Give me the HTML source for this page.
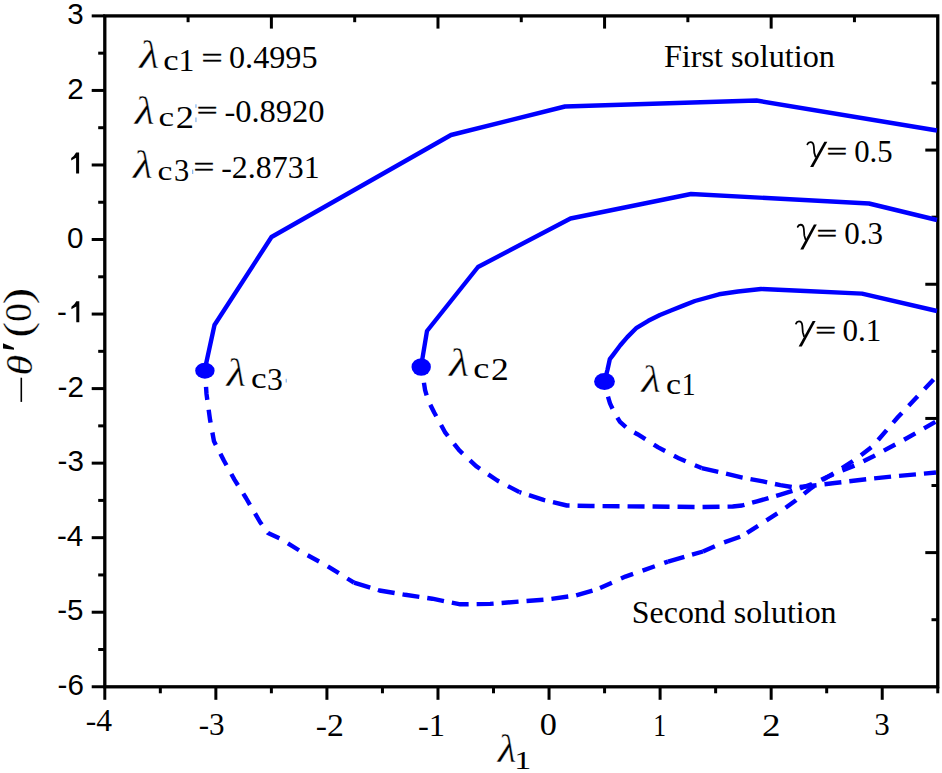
<!DOCTYPE html>
<html><head><meta charset="utf-8"><style>
html,body{margin:0;padding:0;background:#fff;overflow:hidden;}
svg{display:block;}
</style></head><body>
<svg width="942" height="773" viewBox="0 0 942 773">
<rect width="942" height="773" fill="#fff"/>
<g stroke="#000" stroke-width="3">
<rect x="104.8" y="15.9" width="832.95" height="670.90" fill="none" stroke="#000" stroke-width="3.3"/>
<line x1="91.7" y1="15.90" x2="104.8" y2="15.90"/>
<line x1="98.2" y1="53.17" x2="104.8" y2="53.17"/>
<line x1="91.7" y1="90.44" x2="104.8" y2="90.44"/>
<line x1="98.2" y1="127.71" x2="104.8" y2="127.71"/>
<line x1="91.7" y1="164.98" x2="104.8" y2="164.98"/>
<line x1="98.2" y1="202.25" x2="104.8" y2="202.25"/>
<line x1="91.7" y1="239.52" x2="104.8" y2="239.52"/>
<line x1="98.2" y1="276.79" x2="104.8" y2="276.79"/>
<line x1="91.7" y1="314.06" x2="104.8" y2="314.06"/>
<line x1="98.2" y1="351.33" x2="104.8" y2="351.33"/>
<line x1="91.7" y1="388.60" x2="104.8" y2="388.60"/>
<line x1="98.2" y1="425.87" x2="104.8" y2="425.87"/>
<line x1="91.7" y1="463.14" x2="104.8" y2="463.14"/>
<line x1="98.2" y1="500.41" x2="104.8" y2="500.41"/>
<line x1="91.7" y1="537.68" x2="104.8" y2="537.68"/>
<line x1="98.2" y1="574.95" x2="104.8" y2="574.95"/>
<line x1="91.7" y1="612.22" x2="104.8" y2="612.22"/>
<line x1="98.2" y1="649.49" x2="104.8" y2="649.49"/>
<line x1="91.7" y1="686.76" x2="104.8" y2="686.76"/>
<line x1="104.80" y1="686.8" x2="104.80" y2="699.8"/>
<line x1="160.33" y1="686.8" x2="160.33" y2="693.3"/>
<line x1="215.86" y1="686.8" x2="215.86" y2="699.8"/>
<line x1="271.39" y1="686.8" x2="271.39" y2="693.3"/>
<line x1="326.92" y1="686.8" x2="326.92" y2="699.8"/>
<line x1="382.45" y1="686.8" x2="382.45" y2="693.3"/>
<line x1="437.98" y1="686.8" x2="437.98" y2="699.8"/>
<line x1="493.51" y1="686.8" x2="493.51" y2="693.3"/>
<line x1="549.04" y1="686.8" x2="549.04" y2="699.8"/>
<line x1="604.57" y1="686.8" x2="604.57" y2="693.3"/>
<line x1="660.10" y1="686.8" x2="660.10" y2="699.8"/>
<line x1="715.63" y1="686.8" x2="715.63" y2="693.3"/>
<line x1="771.16" y1="686.8" x2="771.16" y2="699.8"/>
<line x1="826.69" y1="686.8" x2="826.69" y2="693.3"/>
<line x1="882.22" y1="686.8" x2="882.22" y2="699.8"/>
<line x1="937.75" y1="686.8" x2="937.75" y2="693.3"/>
<line x1="188.09" y1="15.9" x2="188.09" y2="22.2"/>
<line x1="271.39" y1="15.9" x2="271.39" y2="28.6"/>
<line x1="354.69" y1="15.9" x2="354.69" y2="22.2"/>
<line x1="437.98" y1="15.9" x2="437.98" y2="28.6"/>
<line x1="521.27" y1="15.9" x2="521.27" y2="22.2"/>
<line x1="604.57" y1="15.9" x2="604.57" y2="28.6"/>
<line x1="687.87" y1="15.9" x2="687.87" y2="22.2"/>
<line x1="771.16" y1="15.9" x2="771.16" y2="28.6"/>
<line x1="854.45" y1="15.9" x2="854.45" y2="22.2"/>
<line x1="931.5" y1="82.99" x2="937.75" y2="82.99"/>
<line x1="925.3" y1="150.08" x2="937.75" y2="150.08"/>
<line x1="931.5" y1="217.17" x2="937.75" y2="217.17"/>
<line x1="925.3" y1="284.26" x2="937.75" y2="284.26"/>
<line x1="931.5" y1="351.35" x2="937.75" y2="351.35"/>
<line x1="925.3" y1="418.44" x2="937.75" y2="418.44"/>
<line x1="931.5" y1="485.53" x2="937.75" y2="485.53"/>
<line x1="925.3" y1="552.62" x2="937.75" y2="552.62"/>
<line x1="931.5" y1="619.71" x2="937.75" y2="619.71"/>
</g>
<g fill="none" stroke="#0000ff" stroke-width="4.4" stroke-linejoin="round">
<path d="M204.5,371 L214.5,325 L271.5,237 L451,135 L565,106.5 L756.5,100.5 L937,130.5"/>
<path d="M421,367 L427,331 L478,267 L570.5,218.5 L691,194 L869,203.5 L937,220"/>
<path d="M604.6,381 L607.5,369.7 L609.8,359.2 L613.3,354.6 L620.3,345.3 L627.3,337.1 L636.6,327.8 L648.3,320.8 L659.9,315 L671.6,310.3 L683.2,305.6 L694.9,301 L719,294.3 L738,291.5 L761,289 L800,290.8 L862,293.6 L937,311"/>
<path d="M205,371 L206.5,394 L210,419.5 L214,441.3 L224,460.8 L234.3,479.4 L246,498 L260,522 L268,533 L280,538.5 L302.6,552.5 L326.7,565.6 L354,582.7" stroke-dasharray="13 10" stroke-dashoffset="7.00"/>
<path d="M354,582.7 L379.5,590.5 L405.2,594.8 L432.3,598.7 L460.3,604.3 L490.1,603.9 L519.8,601.5 L548.7,599.3 L575.7,595.5 L596.9,589.4" stroke-dasharray="17 8" stroke-dashoffset="0.00"/>
<path d="M596.9,589.4 L625.4,576.6 L668,561.6" stroke-dasharray="13 10" stroke-dashoffset="19.57"/>
<path d="M668,561.6 L703,551.5" stroke-dasharray="17 8" stroke-dashoffset="0.00"/>
<path d="M703,551.5 L720.7,543.5" stroke-dasharray="13 10" stroke-dashoffset="0.00"/>
<path d="M720.7,543.5 L741.8,536.2" stroke-dasharray="17 8" stroke-dashoffset="21.42"/>
<path d="M741.8,536.2 L760.7,524.2 L781,511 L796,500.3 L810,489 L825,478.5 L840,469.5 L856,459 L873,446 L898,417 L916,398 L936,377" stroke-dasharray="13 10" stroke-dashoffset="16.75"/>
<path d="M421,367 L423.5,380 L425.1,390.2 L428,400 L434.2,412.5 L445.3,432.7 L459.1,450.2 L476.1,466.1 L497.3,480.5 L519.6,492.2" stroke-dasharray="13 10" stroke-dashoffset="7.00"/>
<path d="M519.6,492.2 L543.5,499.9 L566.8,505.5 L590.7,506 L700,507 L732.7,506.5 L742,505.5 L757,501.4 L779.7,494.8 L797,489.5" stroke-dasharray="17 8" stroke-dashoffset="15.16"/>
<path d="M797,489.5 L812,484 L826,477.5 L840,471.5 L856,465 L874,456 L903.6,440 L936,421.5" stroke-dasharray="13 10" stroke-dashoffset="19.78"/>
<path d="M604.6,381 L607.5,395 L610,403.4 L614,412 L620,421.9 L628,429 L637.5,434.2 L658.2,447.4 L679.4,458.6 L701.7,468.1" stroke-dasharray="13 10" stroke-dashoffset="7.00"/>
<path d="M701.7,468.1 L723,473 L742.5,477.6 L763,481.4 L780.4,485.2 L795,487.5 L810,486 L834.7,483 L868,479 L892,476.5 L936,472.5" stroke-dasharray="17 8" stroke-dashoffset="0.00"/>
</g>
<g fill="#0000ff">
<ellipse cx="204.9" cy="370.7" rx="9.7" ry="8.0"/>
<ellipse cx="421.2" cy="367" rx="9.7" ry="8.8"/>
<ellipse cx="604.5" cy="381.5" rx="10.4" ry="8.5"/>
</g>
<g fill="#000">
<text transform="matrix(0.46279,0,0,0.40429,139.126,68.100)" style="font-family:'Liberation Serif',serif;font-size:100px;font-style:italic;" stroke="#fff" stroke-width="0.92">λ</text>
<text transform="matrix(0.34595,0,0,0.29167,163.216,70.408)" style="font-family:'Liberation Serif',serif;font-size:100px;">c</text>
<text transform="matrix(0.31714,0,0,0.31364,178.446,70.700)" style="font-family:'Liberation Serif',serif;font-size:100px;">1</text>
<text transform="matrix(0.37447,0,0,0.26800,201.378,66.578)" style="font-family:'Liberation Serif',serif;font-size:100px;" stroke="#000" stroke-width="1.56">=</text>
<text transform="matrix(0.32210,0,0,0.31642,229.012,68.467)" style="font-family:'Liberation Serif',serif;font-size:100px;">0.4995</text>
<text transform="matrix(0.46047,0,0,0.40000,134.721,124.100)" style="font-family:'Liberation Serif',serif;font-size:100px;font-style:italic;" stroke="#fff" stroke-width="0.93">λ</text>
<text transform="matrix(0.35135,0,0,0.27083,158.495,126.429)" style="font-family:'Liberation Serif',serif;font-size:100px;">c</text>
<text transform="matrix(0.36500,0,0,0.31538,175.840,127.700)" style="font-family:'Liberation Serif',serif;font-size:100px;">2</text>
<text transform="matrix(0.37021,0,0,0.26000,196.799,119.410)" style="font-family:'Liberation Serif',serif;font-size:100px;" stroke="#000" stroke-width="1.59">=</text>
<text transform="matrix(0.32500,0,0,0.31493,224.400,121.570)" style="font-family:'Liberation Serif',serif;font-size:100px;">-0.8920</text>
<text transform="matrix(0.45814,0,0,0.40571,133.016,177.500)" style="font-family:'Liberation Serif',serif;font-size:100px;font-style:italic;" stroke="#fff" stroke-width="0.93">λ</text>
<text transform="matrix(0.33514,0,0,0.27083,157.559,179.929)" style="font-family:'Liberation Serif',serif;font-size:100px;">c</text>
<text transform="matrix(0.30488,0,0,0.31970,174.076,181.480)" style="font-family:'Liberation Serif',serif;font-size:100px;">3</text>
<text transform="matrix(0.37021,0,0,0.26400,193.499,176.294)" style="font-family:'Liberation Serif',serif;font-size:100px;" stroke="#000" stroke-width="1.58">=</text>
<text transform="matrix(0.31913,0,0,0.31029,221.223,178.379)" style="font-family:'Liberation Serif',serif;font-size:100px;">-2.8731</text>
<text transform="matrix(0.32224,0,0,0.32000,663.933,66.980)" style="font-family:'Liberation Serif',serif;font-size:100px;">First solution</text>
<text transform="matrix(0.31912,0,0,0.32394,631.866,623.352)" style="font-family:'Liberation Serif',serif;font-size:100px;">Second solution</text>
<text transform="matrix(0.36809,0,0,0.26000,826.410,160.010)" style="font-family:'Liberation Serif',serif;font-size:100px;" stroke="#000" stroke-width="1.59">=</text>
<text transform="matrix(0.30769,0,0,0.31343,854.169,162.273)" style="font-family:'Liberation Serif',serif;font-size:100px;">0.5</text>
<text transform="matrix(0.36809,0,0,0.26000,816.610,242.210)" style="font-family:'Liberation Serif',serif;font-size:100px;" stroke="#000" stroke-width="1.59">=</text>
<text transform="matrix(0.31026,0,0,0.31343,844.359,244.473)" style="font-family:'Liberation Serif',serif;font-size:100px;">0.3</text>
<text transform="matrix(0.37021,0,0,0.26000,815.299,339.110)" style="font-family:'Liberation Serif',serif;font-size:100px;" stroke="#000" stroke-width="1.59">=</text>
<text transform="matrix(0.31043,0,0,0.30882,842.458,341.382)" style="font-family:'Liberation Serif',serif;font-size:100px;">0.1</text>
<text transform="matrix(0.45116,0,0,0.39857,226.602,385.600)" style="font-family:'Liberation Serif',serif;font-size:100px;font-style:italic;" stroke="#fff" stroke-width="0.94">λ</text>
<text transform="matrix(0.35135,0,0,0.30208,250.895,388.098)" style="font-family:'Liberation Serif',serif;font-size:100px;">c</text>
<text transform="matrix(0.31707,0,0,0.31515,267.115,389.585)" style="font-family:'Liberation Serif',serif;font-size:100px;">3</text>
<text transform="matrix(0.46744,0,0,0.39857,449.035,376.000)" style="font-family:'Liberation Serif',serif;font-size:100px;font-style:italic;" stroke="#fff" stroke-width="0.92">λ</text>
<text transform="matrix(0.36216,0,0,0.30208,473.251,378.498)" style="font-family:'Liberation Serif',serif;font-size:100px;">c</text>
<text transform="matrix(0.35500,0,0,0.32000,491.080,380.300)" style="font-family:'Liberation Serif',serif;font-size:100px;">2</text>
<text transform="matrix(0.44884,0,0,0.38429,641.598,391.900)" style="font-family:'Liberation Serif',serif;font-size:100px;font-style:italic;" stroke="#fff" stroke-width="0.96">λ</text>
<text transform="matrix(0.33784,0,0,0.28750,666.049,394.212)" style="font-family:'Liberation Serif',serif;font-size:100px;">c</text>
<text transform="matrix(0.27714,0,0,0.30909,681.806,394.500)" style="font-family:'Liberation Serif',serif;font-size:100px;">1</text>
<text transform="matrix(0.43256,0,0,0.40000,497.665,761.800)" style="font-family:'Liberation Serif',serif;font-size:100px;font-style:italic;" stroke="#fff" stroke-width="0.96">λ</text>
<text transform="matrix(0.34000,0,0,0.25152,514.340,769.300)" style="font-family:'Liberation Serif',serif;font-size:100px;">1</text>
<text transform="matrix(0.31538,0,0,0.32615,85.738,730.800)" style="font-family:'Liberation Serif',serif;font-size:100px;">-4</text>
<text transform="matrix(0.31067,0,0,0.31667,198.657,735.183)" style="font-family:'Liberation Serif',serif;font-size:100px;">-3</text>
<text transform="matrix(0.33784,0,0,0.31846,315.649,735.500)" style="font-family:'Liberation Serif',serif;font-size:100px;">-2</text>
<text transform="matrix(0.32603,0,0,0.31364,417.996,735.500)" style="font-family:'Liberation Serif',serif;font-size:100px;">-1</text>
<text transform="matrix(0.34286,0,0,0.30896,539.829,734.882)" style="font-family:'Liberation Serif',serif;font-size:100px;">0</text>
<text transform="matrix(0.25714,0,0,0.31364,653.286,735.500)" style="font-family:'Liberation Serif',serif;font-size:100px;">1</text>
<text transform="matrix(0.37000,0,0,0.32154,761.920,735.500)" style="font-family:'Liberation Serif',serif;font-size:100px;">2</text>
<text transform="matrix(0.30976,0,0,0.31667,874.351,735.183)" style="font-family:'Liberation Serif',serif;font-size:100px;">3</text>
<text transform="matrix(0,-0.42000,0.36535,0,31.755,375.520)" style="font-family:'Liberation Serif',serif;font-size:100px;font-style:italic;" stroke="#fff" stroke-width="0.61">θ</text>
<text transform="matrix(0,-0.52500,0.46522,0,33.639,352.125)" style="font-family:'Liberation Serif',serif;font-size:100px;">′</text>
<text transform="matrix(0,-0.46308,0.39933,0,30.634,337.472)" style="font-family:'Liberation Serif',serif;font-size:100px;" stroke="#fff" stroke-width="0.56">(</text>
<text transform="matrix(0,-0.37714,0.38716,0,31.346,322.029)" style="font-family:'Liberation Serif',serif;font-size:100px;" stroke="#fff" stroke-width="0.63">0</text>
<text transform="matrix(0,-0.49385,0.39933,0,30.634,304.302)" style="font-family:'Liberation Serif',serif;font-size:100px;" stroke="#fff" stroke-width="0.54">)</text>
<text transform="matrix(0.29600,0,0,0.29400,67.304,24.100)" style="font-family:'Liberation Sans',sans-serif;font-size:100px;">3</text>
<text transform="matrix(0.29600,0,0,0.29400,67.304,98.640)" style="font-family:'Liberation Sans',sans-serif;font-size:100px;">2</text>
<text transform="matrix(0.29600,0,0,0.29400,67.008,247.720)" style="font-family:'Liberation Sans',sans-serif;font-size:100px;">0</text>
<text transform="matrix(0.29600,0,0,0.29400,57.016,322.260)" style="font-family:'Liberation Sans',sans-serif;font-size:100px;">-</text>
<text transform="matrix(0.29600,0,0,0.29400,57.536,396.800)" style="font-family:'Liberation Sans',sans-serif;font-size:100px;">-2</text>
<text transform="matrix(0.29600,0,0,0.29400,57.536,471.340)" style="font-family:'Liberation Sans',sans-serif;font-size:100px;">-3</text>
<text transform="matrix(0.29600,0,0,0.29400,56.944,545.880)" style="font-family:'Liberation Sans',sans-serif;font-size:100px;">-4</text>
<text transform="matrix(0.29600,0,0,0.29400,57.240,620.420)" style="font-family:'Liberation Sans',sans-serif;font-size:100px;">-5</text>
<text transform="matrix(0.29600,0,0,0.29400,57.536,694.960)" style="font-family:'Liberation Sans',sans-serif;font-size:100px;">-6</text>
<path d="M76.10,152.58 L79.10,152.58 L79.10,173.48 L76.10,173.48 L76.10,157.78 Q73.90,159.08 71.20,160.58 L71.20,157.88 Q74.30,156.18 76.10,152.58 Z"/>
<path d="M76.30,301.36 L79.30,301.36 L79.30,322.26 L76.30,322.26 L76.30,306.56 Q74.10,307.86 71.40,309.36 L71.40,306.66 Q74.50,304.96 76.30,301.36 Z"/>
<g transform="translate(806.9,141.3) scale(1.0000,1.0000)"><path d="M17.4,0.5 L20.4,0.5 L6.4,25.7 L3.2,25.7 Z"/><path d="M0.5,3.0 C1.1,1.3 2.2,0.8 3.6,0.85 C5.6,0.9 6.6,2.2 6.9,5 L7.4,11.5 L8.6,15.4" fill="none" stroke="#000" stroke-width="1.8" stroke-linecap="round"/></g><g transform="translate(797.2,223.9) scale(0.9610,1.0000)"><path d="M17.4,0.5 L20.4,0.5 L6.4,25.7 L3.2,25.7 Z"/><path d="M0.5,3.0 C1.1,1.3 2.2,0.8 3.6,0.85 C5.6,0.9 6.6,2.2 6.9,5 L7.4,11.5 L8.6,15.4" fill="none" stroke="#000" stroke-width="1.8" stroke-linecap="round"/></g><g transform="translate(795.5,320.6) scale(0.9854,1.0078)"><path d="M17.4,0.5 L20.4,0.5 L6.4,25.7 L3.2,25.7 Z"/><path d="M0.5,3.0 C1.1,1.3 2.2,0.8 3.6,0.85 C5.6,0.9 6.6,2.2 6.9,5 L7.4,11.5 L8.6,15.4" fill="none" stroke="#000" stroke-width="1.8" stroke-linecap="round"/></g>
<line x1="21.3" y1="377.7" x2="21.3" y2="401.9" stroke="#000" stroke-width="1.6"/>
</g>
<g fill="#8ab8ee">
<rect x="195.3" y="104.3" width="1.3" height="3.5"/>
<rect x="195.3" y="117.5" width="1.3" height="4.6"/>
<rect x="192" y="169.6" width="1.3" height="4.4"/>
<rect x="285.6" y="378.8" width="1.3" height="3.7"/>
</g>
</svg>
</body></html>
